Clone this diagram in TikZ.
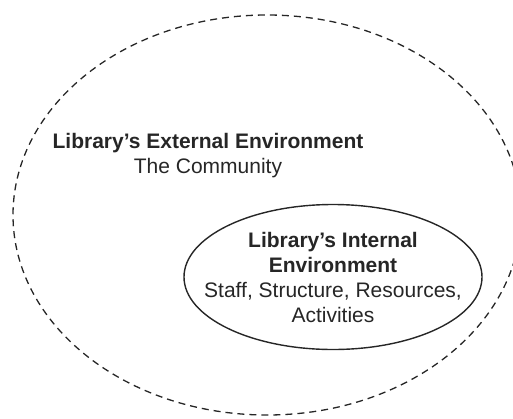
\documentclass[tikz,border=0pt]{standalone}
\usepackage{fontspec}
\setmainfont{Liberation Sans}
\usetikzlibrary{shapes.geometric,positioning}
\tikzset{extenv/.style={ellipse, draw=black!85, dash pattern=on 7pt off 5pt, line width=1.3pt, minimum width=508pt, minimum height=400pt, inner sep=0pt}}
\tikzset{intenv/.style={ellipse, draw=black!85, line width=1.4pt, minimum width=298pt, minimum height=145pt, inner sep=0pt}}
\tikzset{envtext/.style={align=center, inner sep=0pt, text=black!85, font=\fontsize{21}{25}\selectfont}}

\begin{document}
\begin{tikzpicture}[x=1pt,y=-1pt]
    \useasboundingbox (0,0) rectangle (513,418);
    \clip (0,0) rectangle (513,418);

    \node[extenv] (ext) at (267,215) {};
    \node[intenv] (int) at (333,277) {};

    \node[envtext] (exttxt) at (208,156) {\textbf{Library’s External Environment}\\The Community};
    \node[envtext] (inttxt) at (int.center) {\textbf{Library’s Internal}\\\textbf{Environment}\\Staff, Structure, Resources,\\Activities};
\end{tikzpicture}
\end{document}
